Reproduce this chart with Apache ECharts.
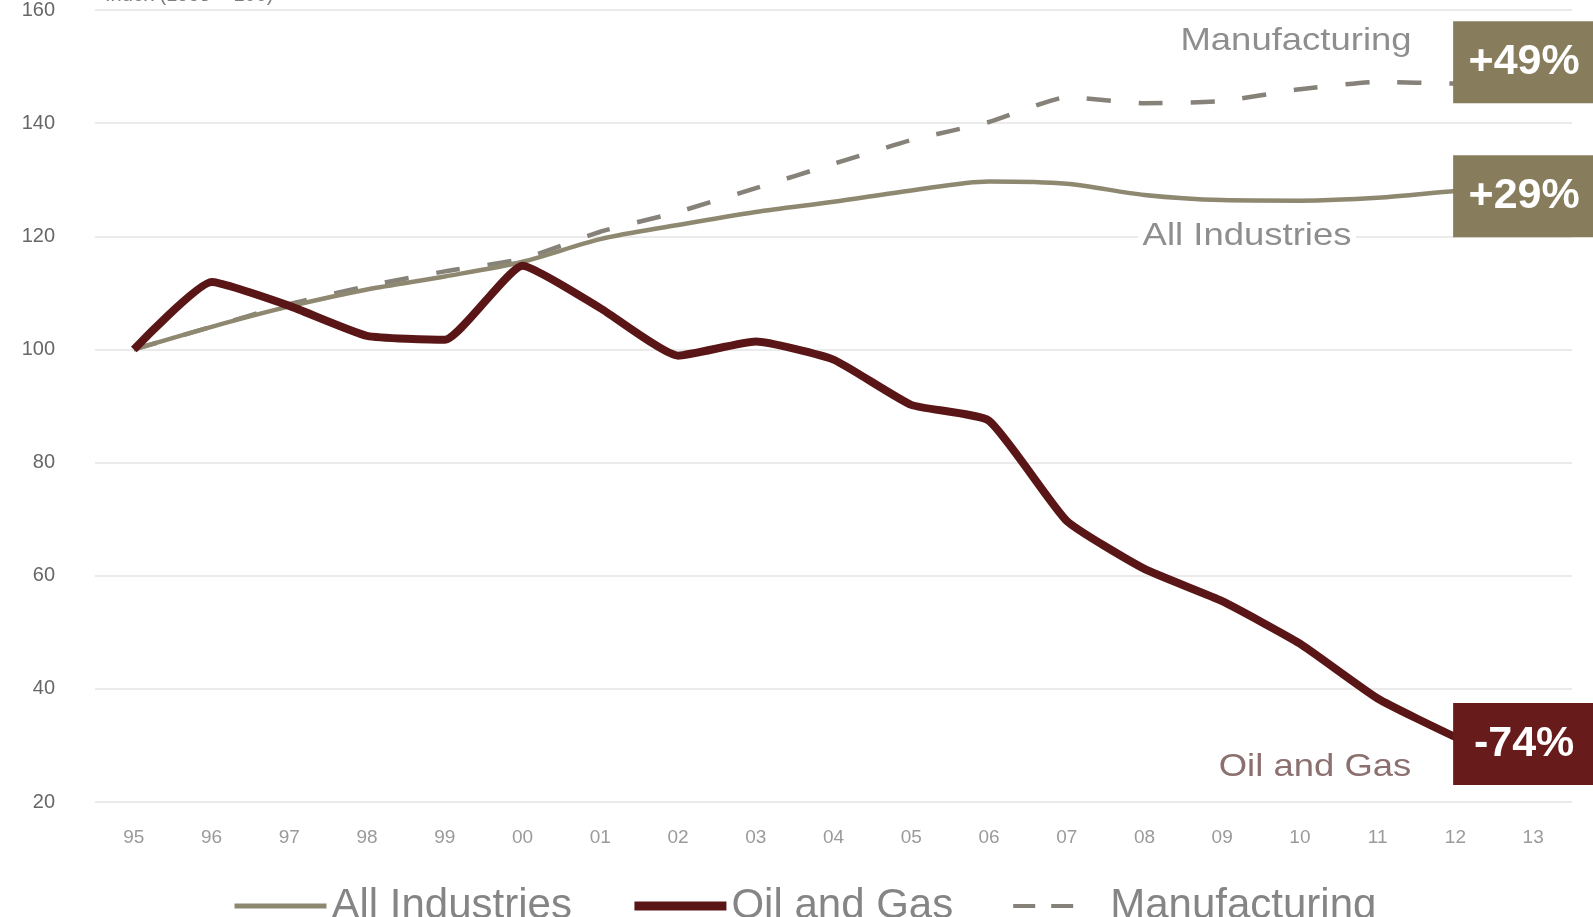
<!DOCTYPE html>
<html>
<head>
<meta charset="utf-8">
<script src="https://cdn.jsdelivr.net/npm/echarts@6/dist/echarts.min.js"></script>
<style>
  html, body { margin: 0; padding: 0; background: #ffffff; }
  #chart { width: 1593px; height: 917px; }
</style>
</head>
<body>
<div id="chart"></div>
<script>
// Years on the category axis (1995 - 2013)
const years = ['95', '96', '97', '98', '99', '00', '01', '02', '03', '04',
               '05', '06', '07', '08', '09', '10', '11', '12', '13'];

// Index values, 1995 = 100
const allIndustries = [100, 104.0, 107.6, 110.6, 112.9, 115.5, 119.5, 122.0, 124.3, 126.1,
                       128.1, 129.7, 129.3, 127.3, 126.4, 126.3, 126.8, 128.0, 129];
const oilAndGas     = [100, 111.9, 107.7, 102.4, 101.7, 114.8, 107.3, 98.9, 101.4, 98.2,
                       90.2, 87.4, 69.7, 61.2, 55.5, 48.0, 38.3, 31.5, 26];
const manufacturing = [100, 104.0, 108.0, 111.2, 113.8, 116.0, 120.8, 124.3, 128.5, 132.8,
                       137.0, 140.2, 144.6, 143.5, 143.9, 146.0, 147.3, 147.0, 149];

// Value axis ticks
const yMin = 20, yMax = 160, yStep = 20;

const FONT = '"Liberation Sans", Arial, sans-serif';
const TAN = '#8f8870';
const TAN_BOX = '#877c5c';
const MAROON = '#5a1616';
const MAROON_BOX = '#681b1b';
const DASH_GREY = '#86827a';

// Change since 1995 shown in the end-of-line box
function changeLabel(p) {
  const d = Math.round(p.value - 100);
  return (d > 0 ? '+' : '') + d + '%';
}

function endBox(values, color, dy) {
  const last = values.length - 1;
  return {
    silent: true,
    symbol: 'rect',
    symbolSize: [166, 82],
    symbolOffset: [3, dy],
    itemStyle: { color: color },
    label: {
      show: true,
      position: 'inside',
      offset: [-12, 0],
      formatter: changeLabel,
      color: '#ffffff',
      fontFamily: FONT,
      fontWeight: 'bold',
      fontSize: 43
    },
    data: [{ coord: [years[last], values[last]], value: values[last] }]
  };
}

// Series name written next to a line, slightly widened
function nameTag(text, x, y, color) {
  return {
    type: 'text', silent: true, x: x, y: y, scaleX: 1.14, z: 10,
    style: { x: 0, y: 0, text: text, fill: color, align: 'center',
             verticalAlign: 'middle', font: '32px ' + FONT,
             backgroundColor: '#ffffff', padding: [0, 4] }
  };
}

const chart = echarts.init(document.getElementById('chart'), null, { renderer: 'canvas' });

chart.setOption({
  backgroundColor: '#ffffff',
  animation: false,
  grid: { left: 95, right: 21, top: 5, bottom: 115, containLabel: false },
  xAxis: {
    type: 'category',
    data: years,
    boundaryGap: true,
    axisLine: { show: false },
    axisTick: { show: false },
    axisLabel: {
      margin: 26,
      color: '#9a9a9a',
      fontFamily: FONT,
      fontSize: 19
    },
    splitLine: { show: false }
  },
  yAxis: {
    type: 'value',
    min: yMin,
    max: yMax,
    interval: yStep,
    axisLine: { show: false },
    axisTick: { show: false },
    axisLabel: {
      margin: 40,
      color: '#676767',
      fontFamily: FONT,
      fontSize: 20
    },
    splitLine: { lineStyle: { color: '#ebebeb', width: 2 } }
  },
  legend: {
    left: 232,
    top: 885,
    padding: 0,
    itemWidth: 92,
    itemHeight: 16,
    itemGap: 58,
    textStyle: {
      color: '#858585',
      fontFamily: FONT,
      fontSize: 42
    },
    data: [
      { name: 'All Industries', itemStyle: { opacity: 0 }, lineStyle: { width: 5 } },
      { name: 'Oil and Gas', itemStyle: { opacity: 0 }, lineStyle: { width: 9 } },
      { name: 'Manufacturing', itemStyle: { opacity: 0 },
        lineStyle: { width: 4, type: [22, 16, 22, 40] } }
    ]
  },
  series: [
    {
      name: 'All Industries',
      type: 'line',
      data: allIndustries,
      symbol: 'none',
      smooth: 0.3,
      z: 3,
      lineStyle: { color: TAN, width: 4.5 },
      itemStyle: { color: TAN },
      markPoint: endBox(allIndustries, TAN_BOX, 11)
    },
    {
      name: 'Oil and Gas',
      type: 'line',
      data: oilAndGas,
      symbol: 'none',
      smooth: 0.15,
      z: 4,
      lineStyle: { color: MAROON, width: 8 },
      itemStyle: { color: MAROON },
      markPoint: endBox(oilAndGas, MAROON_BOX, -24)
    },
    {
      name: 'Manufacturing',
      type: 'line',
      data: manufacturing,
      symbol: 'none',
      smooth: 0.15,
      z: 2,
      lineStyle: { color: DASH_GREY, width: 4.5, type: [24, 28] },
      itemStyle: { color: DASH_GREY },
      markPoint: endBox(manufacturing, TAN_BOX, -10)
    }
  ],
  graphic: [
    {
      type: 'text', left: 105, top: -15, silent: true,
      style: { text: 'Index (1995 = 100)', fill: '#7d7d7d', font: '20px ' + FONT }
    },
    nameTag('Manufacturing', 1296, 41, '#8e8e8e'),
    nameTag('All Industries', 1247, 236, '#8e8e8e'),
    nameTag('Oil and Gas', 1315, 767, '#8c7070')
  ]
});
</script>
</body>
</html>
